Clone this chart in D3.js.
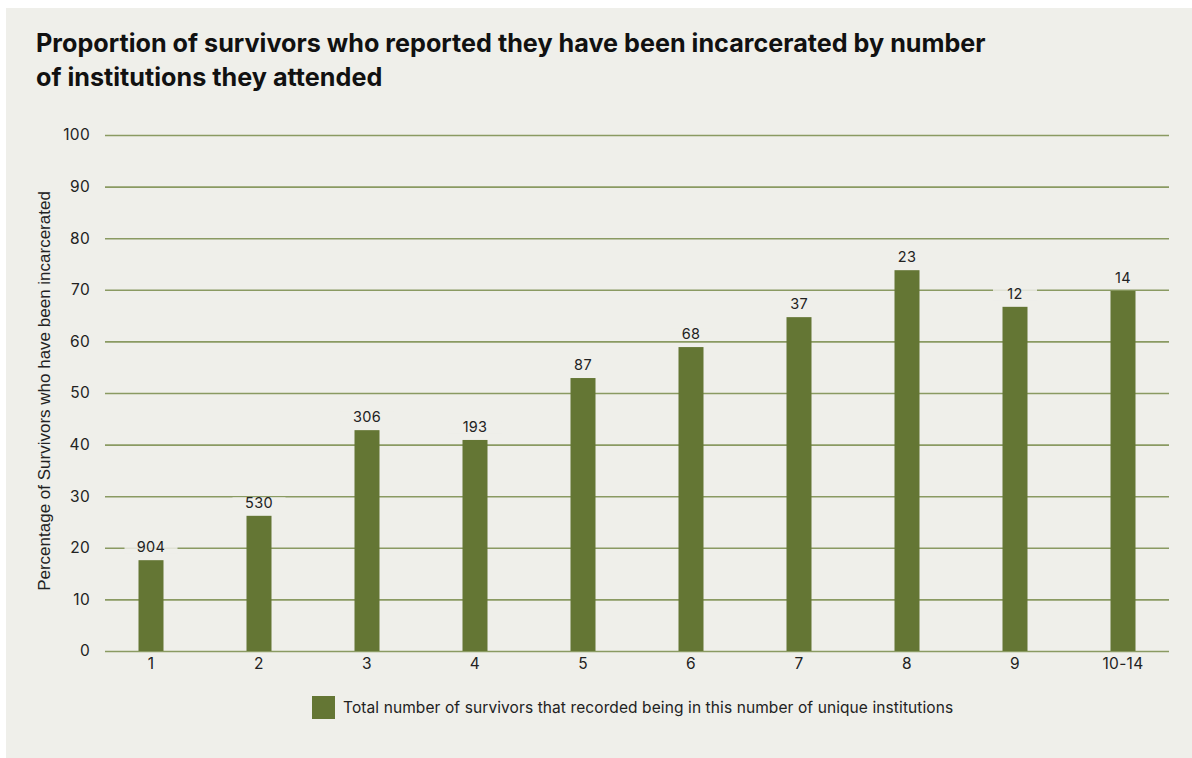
<!DOCTYPE html>
<html>
<head>
<meta charset="utf-8">
<script src="https://cdn.jsdelivr.net/npm/d3@7"></script>
<style>
  html, body { margin: 0; padding: 0; background: #ffffff; }
  svg { display: block; }
</style>
</head>
<body>
<script>
// chart data
var categories = ["1", "2", "3", "4", "5", "6", "7", "8", "9", "10-14"]
var percentages = [17.6, 26.2, 42.8, 40.9, 52.9, 58.9, 64.7, 73.8, 66.7, 69.8]
var survivorCounts = [904, 530, 306, 193, 87, 68, 37, 23, 12, 14]
var yTicks = [0, 10, 20, 30, 40, 50, 60, 70, 80, 90, 100]

var titleLines = [
    "Proportion of survivors who reported they have been incarcerated by number",
    "of institutions they attended"
]
var yTitle = "Percentage of Survivors who have been incarcerated"
var legendLabel = "Total number of survivors that recorded being in this number of unique institutions"

// page setup
var width = 1192
var height = 758
var panelColor = "#efefea"
var barColor = "#647634"
var gridColor = "#8a9a62"
var textColor = "#222222"

var svg = d3.select("body")
    .append("svg")
        .attr("width", width)
        .attr("height", height)

// background panel
svg.append("rect")
    .attr("x", 6)
    .attr("y", 8)
    .attr("width", width - 6)
    .attr("height", height - 8)
    .attr("fill", panelColor)

// title
svg.append("g")
    .selectAll("text")
    .data(titleLines)
    .enter()
    .append("text")
        .attr("x", 36)
        .attr("y", function(d, i) { return 52 + i * 34 })
        .attr("font-family", "Inter, 'Noto Sans', sans-serif")
        .attr("font-weight", 700)
        .attr("font-size", "25.2px")
        .attr("fill", "#111")
        .text(function(d) { return d })

// scales
var xScale = d3.scalePoint()
    .domain(categories)
    .range([151, 1123])

var yScale = d3.scaleLinear()
    .domain([0, 100])
    .range([651, 135])

var barWidth = 25

// gridlines
var grid = svg.append("g")
    .attr("transform", "translate(105,0)")
    .call(d3.axisLeft(yScale)
        .tickValues(yTicks)
        .tickSize(-(1169 - 105))
        .tickFormat(""))
grid.select(".domain").remove()
grid.selectAll("line")
    .attr("stroke", gridColor)
    .attr("stroke-width", 1.6)

// y tick labels
svg.append("g")
    .selectAll("text")
    .data(yTicks)
    .enter()
    .append("text")
        .attr("x", 90)
        .attr("y", function(d) { return yScale(d) })
        .attr("dy", "0.35em")
        .attr("text-anchor", "end")
        .attr("font-family", "Inter, 'Noto Sans', sans-serif")
        .attr("font-size", "15.5px")
        .attr("letter-spacing", "0.3px")
        .attr("fill", textColor)
        .text(function(d) { return d })

// y axis title
svg.append("text")
    .attr("transform", "translate(50," + 391 + ") rotate(-90)")
    .attr("text-anchor", "middle")
    .attr("font-family", "'Liberation Sans', Arial, sans-serif")
    .attr("font-size", "17px")
    .attr("fill", textColor)
    .text(yTitle)

// x tick labels
svg.append("g")
    .selectAll("text")
    .data(categories)
    .enter()
    .append("text")
        .attr("x", function(d) { return xScale(d) })
        .attr("y", 669)
        .attr("text-anchor", "middle")
        .attr("font-family", "Inter, 'Noto Sans', sans-serif")
        .attr("font-size", "15.5px")
        .attr("letter-spacing", "0.3px")
        .attr("fill", textColor)
        .text(function(d) { return d })

// bars
svg.append("g")
    .selectAll("rect")
    .data(categories)
    .enter()
    .append("rect")
        .attr("x", function(d) { return xScale(d) - barWidth / 2 })
        .attr("y", function(d, i) { return yScale(percentages[i]) })
        .attr("width", barWidth)
        .attr("height", function(d, i) { return yScale(0) - yScale(percentages[i]) })
        .attr("fill", barColor)

// value labels with a background box that hides the gridline
var labels = svg.append("g")
    .selectAll("g")
    .data(categories)
    .enter()
    .append("g")
        .attr("transform", function(d, i) {
            return "translate(" + xScale(d) + "," + (yScale(percentages[i]) - 8) + ")"
        })

labels.append("rect")
    .attr("x", function(d, i) { return -(String(survivorCounts[i]).length * 4.5 + 13) })
    .attr("y", -10.5)
    .attr("width", function(d, i) { return 2 * (String(survivorCounts[i]).length * 4.5 + 13) })
    .attr("height", 12)
    .attr("fill", panelColor)
    .attr("opacity", 0.85)

labels.append("text")
    .attr("text-anchor", "middle")
    .attr("font-family", "Inter, 'Noto Sans', sans-serif")
    .attr("font-size", "14.5px")
    .attr("letter-spacing", "0.3px")
    .attr("fill", textColor)
    .text(function(d, i) { return survivorCounts[i] })

// legend
svg.append("rect")
    .attr("x", 312)
    .attr("y", 696)
    .attr("width", 23)
    .attr("height", 23)
    .attr("fill", barColor)

svg.append("text")
    .attr("x", 343)
    .attr("y", 713)
    .attr("font-family", "Inter, 'Noto Sans', sans-serif")
    .attr("font-size", "15.5px")
    .attr("letter-spacing", "0.1px")
    .attr("fill", textColor)
    .text(legendLabel)
</script>
</body>
</html>
